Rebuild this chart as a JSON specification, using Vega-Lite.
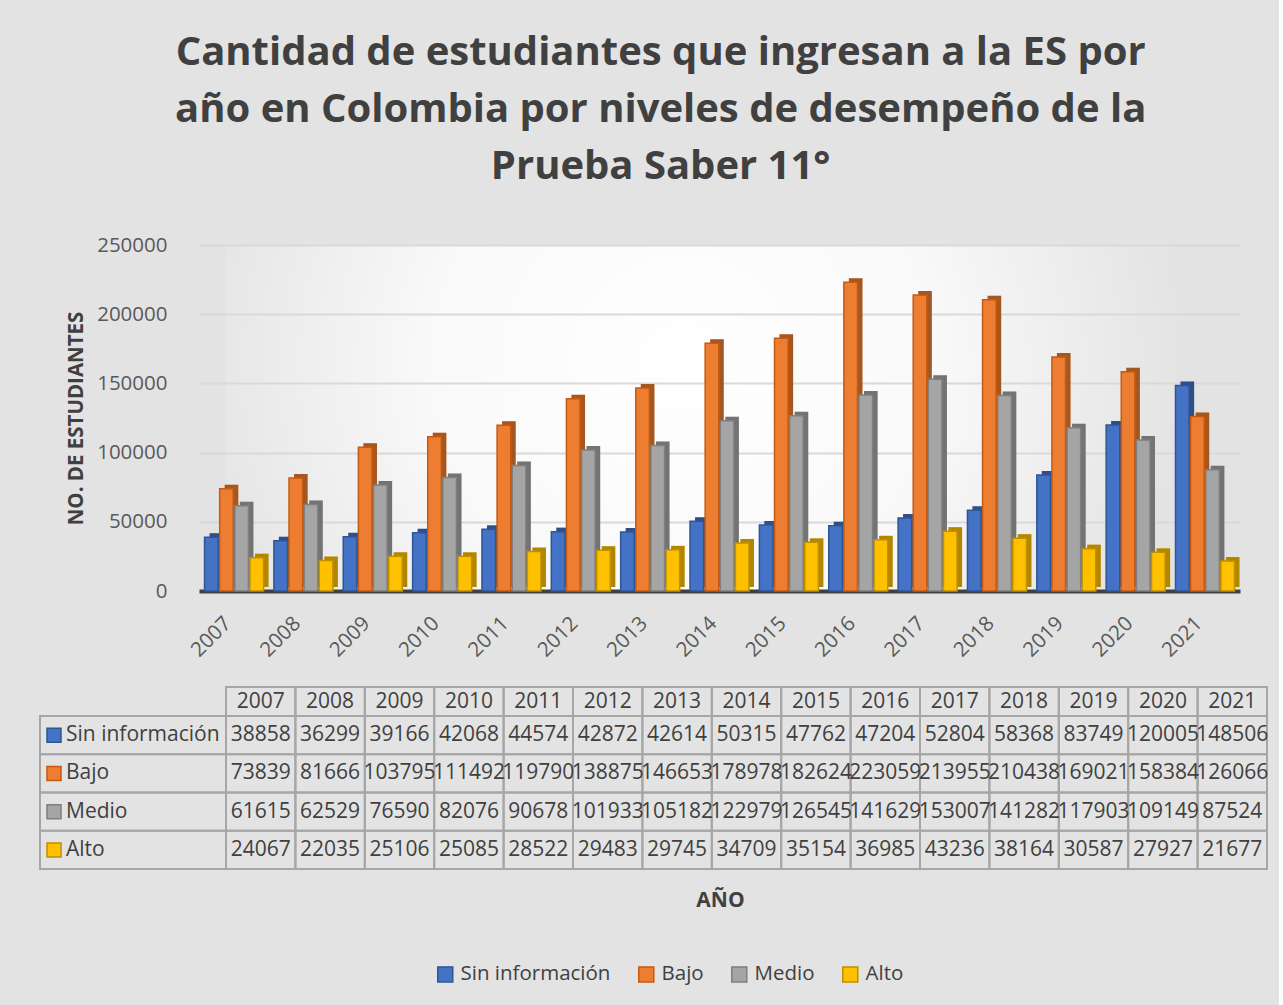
{
  "$schema": "https://vega.github.io/schema/vega-lite/v6.json",
  "background": "#e3e3e3",
  "padding": {"left": 39, "top": 33, "right": 10, "bottom": 95},
  "title": {
    "text": ["Cantidad de estudiantes que ingresan a la ES por", "año en Colombia por niveles de desempeño de la", "Prueba Saber 11°"],
    "fontSize": 40, "font": "Open Sans", "fontWeight": "bold", "color": "#404040",
    "lineHeight": 57, "anchor": "middle", "frame": "bounds", "offset": 48, "dx": 7
  },
  "datasets": {
    "d": [
      {"year": "2007", "series": "Sin información", "value": 38858},
      {"year": "2008", "series": "Sin información", "value": 36299},
      {"year": "2009", "series": "Sin información", "value": 39166},
      {"year": "2010", "series": "Sin información", "value": 42068},
      {"year": "2011", "series": "Sin información", "value": 44574},
      {"year": "2012", "series": "Sin información", "value": 42872},
      {"year": "2013", "series": "Sin información", "value": 42614},
      {"year": "2014", "series": "Sin información", "value": 50315},
      {"year": "2015", "series": "Sin información", "value": 47762},
      {"year": "2016", "series": "Sin información", "value": 47204},
      {"year": "2017", "series": "Sin información", "value": 52804},
      {"year": "2018", "series": "Sin información", "value": 58368},
      {"year": "2019", "series": "Sin información", "value": 83749},
      {"year": "2020", "series": "Sin información", "value": 120005},
      {"year": "2021", "series": "Sin información", "value": 148506},
      {"year": "2007", "series": "Bajo", "value": 73839},
      {"year": "2008", "series": "Bajo", "value": 81666},
      {"year": "2009", "series": "Bajo", "value": 103795},
      {"year": "2010", "series": "Bajo", "value": 111492},
      {"year": "2011", "series": "Bajo", "value": 119790},
      {"year": "2012", "series": "Bajo", "value": 138875},
      {"year": "2013", "series": "Bajo", "value": 146653},
      {"year": "2014", "series": "Bajo", "value": 178978},
      {"year": "2015", "series": "Bajo", "value": 182624},
      {"year": "2016", "series": "Bajo", "value": 223059},
      {"year": "2017", "series": "Bajo", "value": 213955},
      {"year": "2018", "series": "Bajo", "value": 210438},
      {"year": "2019", "series": "Bajo", "value": 169021},
      {"year": "2020", "series": "Bajo", "value": 158384},
      {"year": "2021", "series": "Bajo", "value": 126066},
      {"year": "2007", "series": "Medio", "value": 61615},
      {"year": "2008", "series": "Medio", "value": 62529},
      {"year": "2009", "series": "Medio", "value": 76590},
      {"year": "2010", "series": "Medio", "value": 82076},
      {"year": "2011", "series": "Medio", "value": 90678},
      {"year": "2012", "series": "Medio", "value": 101933},
      {"year": "2013", "series": "Medio", "value": 105182},
      {"year": "2014", "series": "Medio", "value": 122979},
      {"year": "2015", "series": "Medio", "value": 126545},
      {"year": "2016", "series": "Medio", "value": 141629},
      {"year": "2017", "series": "Medio", "value": 153007},
      {"year": "2018", "series": "Medio", "value": 141282},
      {"year": "2019", "series": "Medio", "value": 117903},
      {"year": "2020", "series": "Medio", "value": 109149},
      {"year": "2021", "series": "Medio", "value": 87524},
      {"year": "2007", "series": "Alto", "value": 24067},
      {"year": "2008", "series": "Alto", "value": 22035},
      {"year": "2009", "series": "Alto", "value": 25106},
      {"year": "2010", "series": "Alto", "value": 25085},
      {"year": "2011", "series": "Alto", "value": 28522},
      {"year": "2012", "series": "Alto", "value": 29483},
      {"year": "2013", "series": "Alto", "value": 29745},
      {"year": "2014", "series": "Alto", "value": 34709},
      {"year": "2015", "series": "Alto", "value": 35154},
      {"year": "2016", "series": "Alto", "value": 36985},
      {"year": "2017", "series": "Alto", "value": 43236},
      {"year": "2018", "series": "Alto", "value": 38164},
      {"year": "2019", "series": "Alto", "value": 30587},
      {"year": "2020", "series": "Alto", "value": 27927},
      {"year": "2021", "series": "Alto", "value": 21677}
    ]
  },
  "columns": 2,
  "bounds": "flush",
  "spacing": {"row": 125, "column": 0},
  "concat": [
    {
      "width": 186, "height": 346,
      "data": {"values": [{"a": 1}]},
      "mark": {"type": "point", "opacity": 0},
      "encoding": {}
    },
    {
      "width": 1014, "height": 346,
      "view": {
        "stroke": null,
        "fill": {
          "gradient": "radial", "x1": 0.45, "y1": 0.45, "r1": 0, "x2": 0.45, "y2": 0.45, "r2": 0.5,
          "stops": [{"offset": 0, "color": "#ffffff"}, {"offset": 0.5, "color": "#f9f9f9"}, {"offset": 1, "color": "#e3e3e3"}]
        }
      },
      "data": {"name": "d"},
      "encoding": {
        "x": {
          "field": "year", "type": "nominal",
          "scale": {"range": [-27, 1014], "paddingInner": 0.15, "paddingOuter": 0.08},
          "axis": {"title": null, "labelAngle": -45, "labelFontSize": 20.5, "labelColor": "#595959", "ticks": false, "domainColor": "#404040", "domainWidth": 4, "labelPadding": 22, "labelOffset": -13, "grid": false}
        },
        "y": {
          "field": "value", "type": "quantitative",
          "scale": {"domain": [0, 250000]},
          "axis": {"title": "NO. DE ESTUDIANTES", "values": [0, 50000, 100000, 150000, 200000, 250000], "format": "d", "labelFontSize": 20.5, "labelColor": "#595959", "labelPadding": 59, "ticks": false, "domain": false, "gridColor": "#d9d9d9", "gridWidth": 2, "titleFontSize": 20.5, "titleFontWeight": "bold", "titleColor": "#404040", "titlePadding": 10}
        },
        "color": {
          "field": "series", "type": "nominal",
          "scale": {"domain": ["Sin información", "Bajo", "Medio", "Alto"], "range": ["#4472c4", "#ed7d31", "#a5a5a5", "#ffc000"]},
          "legend": {"orient": "none", "legendX": 395, "legendY": 719, "direction": "horizontal", "title": null, "symbolType": "square", "symbolSize": 225, "symbolStrokeWidth": 1.5, "labelFontSize": 20.5, "labelColor": "#404040", "columnPadding": 24, "labelOffset": 5}
        }
      },
      "layer": [
        {
          "mark": {"type": "bar", "yOffset": -4},
          "encoding": {
            "xOffset": {"field": "series", "type": "nominal", "sort": ["Sin información", "Bajo", "Medio", "Alto"], "scale": {"range": [5, 64], "paddingInner": 0.1}}
          }
        },
        {
          "mark": {"type": "bar", "yOffset": -4, "color": "#000000", "opacity": 0.3},
          "encoding": {
            "color": null,
            "xOffset": {"field": "series", "type": "nominal", "sort": ["Sin información", "Bajo", "Medio", "Alto"], "scale": {"range": [5, 64], "paddingInner": 0.1}}
          }
        },
        {
          "mark": {"type": "bar", "strokeWidth": 1.5},
          "encoding": {
            "xOffset": {"field": "series", "type": "nominal", "sort": ["Sin información", "Bajo", "Medio", "Alto"], "scale": {"range": [0, 59], "paddingInner": 0.1}},
            "stroke": {
              "field": "series", "type": "nominal",
              "scale": {"domain": ["Sin información", "Bajo", "Medio", "Alto"], "range": ["#2f5597", "#c55a11", "#7f7f7f", "#bf9000"]},
              "legend": {"orient": "none", "legendX": 395, "legendY": 719, "direction": "horizontal", "title": null, "symbolType": "square", "symbolSize": 225, "symbolStrokeWidth": 1.5, "labelFontSize": 20.5, "labelColor": "#404040", "columnPadding": 24, "labelOffset": 5}
            }
          }
        }
      ],
      "resolve": {"scale": {"xOffset": "independent"}}
    },
    {
      "width": 186, "height": 153,
      "data": {"name": "d"},
      "transform": [{"filter": "datum.year == '2007'"}],
      "encoding": {
        "y": {"field": "series", "type": "nominal", "sort": ["Sin información", "Bajo", "Medio", "Alto"], "axis": null, "scale": {"paddingInner": 0, "paddingOuter": 0}}
      },
      "layer": [
        {"mark": {"type": "rect", "fillOpacity": 0, "stroke": "#a6a6a6", "strokeWidth": 2}},
        {
          "mark": {"type": "point", "shape": "square", "size": 196, "filled": true, "opacity": 1, "xOffset": -79, "strokeWidth": 1.5},
          "encoding": {
            "color": {"field": "series", "type": "nominal", "scale": {"domain": ["Sin información", "Bajo", "Medio", "Alto"], "range": ["#4472c4", "#ed7d31", "#a5a5a5", "#ffc000"]}},
            "stroke": {"field": "series", "type": "nominal", "scale": {"domain": ["Sin información", "Bajo", "Medio", "Alto"], "range": ["#2f5597", "#c55a11", "#7f7f7f", "#bf9000"]}}
          }
        },
        {
          "mark": {"type": "text", "align": "left", "dx": -67, "fontSize": 21, "color": "#404040"},
          "encoding": {"text": {"field": "series", "type": "nominal"}}
        }
      ]
    },
    {
      "width": 1041, "height": 153,
      "data": {"name": "d"},
      "encoding": {
        "x": {
          "field": "year", "type": "nominal",
          "scale": {"paddingInner": 0, "paddingOuter": 0},
          "axis": {"orient": "bottom", "labels": false, "ticks": false, "domain": false, "grid": false, "title": "AÑO", "titleFontWeight": "bold", "titleFontSize": 21, "titleColor": "#404040", "titlePadding": 20, "titleX": 494}
        }
      },
      "layer": [
        {
          "encoding": {
            "y": {"field": "series", "type": "nominal", "sort": ["Sin información", "Bajo", "Medio", "Alto"], "axis": null, "scale": {"paddingInner": 0, "paddingOuter": 0}}
          },
          "layer": [
            {"mark": {"type": "rect", "fillOpacity": 0, "stroke": "#a6a6a6", "strokeWidth": 2}},
            {"mark": {"type": "text", "fontSize": 21, "color": "#404040"}, "encoding": {"text": {"field": "value", "type": "quantitative", "format": "d"}}}
          ]
        },
        {
          "transform": [{"filter": "datum.series == 'Alto'"}],
          "encoding": {
            "y": {"datum": "h", "type": "nominal", "scale": {"domain": ["h"], "range": [-29, 0], "paddingInner": 0, "paddingOuter": 0}, "axis": null}
          },
          "layer": [
            {"mark": {"type": "rect", "fillOpacity": 0, "stroke": "#a6a6a6", "strokeWidth": 2}},
            {"mark": {"type": "text", "fontSize": 21, "color": "#404040"}, "encoding": {"text": {"field": "year", "type": "nominal"}}}
          ]
        }
      ],
      "resolve": {"scale": {"y": "independent"}}
    }
  ],
  "config": {
    "font": "Open Sans",
    "view": {"stroke": null}
  }
}
